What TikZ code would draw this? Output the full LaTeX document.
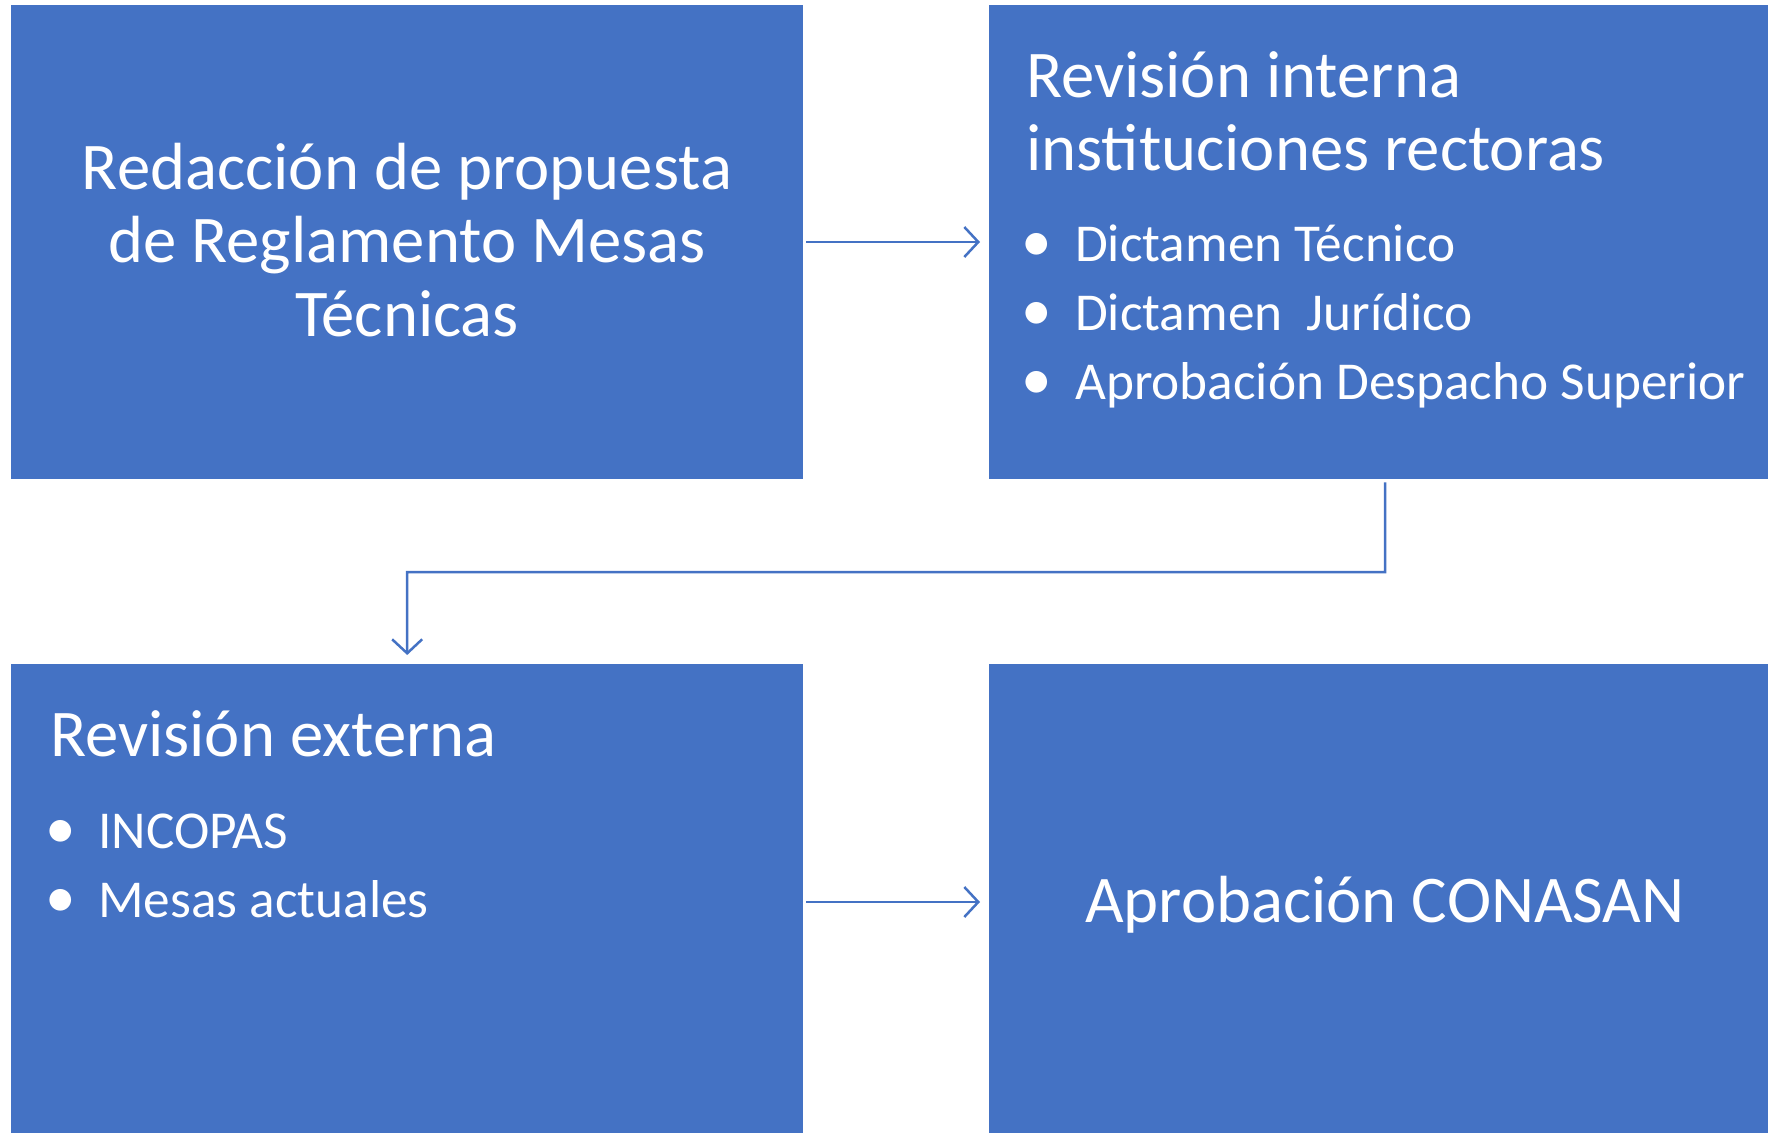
\documentclass[tikz,border=0pt]{standalone}
\usepackage{fontspec}
\setmainfont{Carlito}
\usetikzlibrary{arrows.meta}
\definecolor{boxblue}{HTML}{4472C4}
\tikzset{
  box/.style={fill=boxblue, draw=none, minimum width=792pt, minimum height=474pt, anchor=north west, inner sep=0pt},
  big/.style={text=white, font=\fontsize{66.7}{73}\selectfont, inner sep=0pt},
  small/.style={text=white, font=\fontsize{53.3}{69}\selectfont, inner sep=0pt},
  conn/.style={draw=boxblue, line width=2.5pt, -{Straight Barb[length=14pt,width=30pt,line width=2.5pt]}},
}
\begin{document}
\begin{tikzpicture}[x=1pt,y=-1pt]
\useasboundingbox (0,0) rectangle (1768,1132);
\clip (0,0) rectangle (1768,1132);
\node[box] (b1) at (11,5) {};
\node[box] (b2) at (989,5) {};
\node[box] (b3) at (11,664) {};
\node[box] (b4) at (989,664) {};
% box 1
\node[big, anchor=base] (t1a) at (407,189) {Redacción de propuesta};
\node[big, anchor=base] (t1b) at (407,262) {de Reglamento Mesas};
\node[big, anchor=base] (t1c) at (407,336) {Técnicas};
% box 2
\node[big, anchor=base west] (t2a) at (1026,97) {Revisión interna};
\node[big, anchor=base west] (t2b) at (1026,170) {instituciones rectoras};
\node[small, anchor=base, scale=1.15] (u2a) at (1037,261) {•};
\node[small, anchor=base west] (s2a) at (1075,261) {Dictamen Técnico};
\node[small, anchor=base, scale=1.15] (u2b) at (1037,330) {•};
\node[small, anchor=base west] (s2b) at (1075,330) {Dictamen\ \ Jurídico};
\node[small, anchor=base, scale=1.15] (u2c) at (1037,399) {•};
\node[small, anchor=base west] (s2c) at (1075,399) {Aprobación Despacho Superior};
% box 3
\node[big, anchor=base west] (t3a) at (50,756) {Revisión externa};
\node[small, anchor=base, scale=1.15] (u3a) at (61,848) {•};
\node[small, anchor=base west] (s3a) at (98,848) {INCOPAS};
\node[small, anchor=base, scale=1.15] (u3b) at (61,917) {•};
\node[small, anchor=base west] (s3b) at (98,917) {Mesas actuales};
% box 4
\node[big, anchor=base] (t4) at (1385,922) {Aprobación CONASAN};
% connectors
\draw[conn] (b1.east |- 0,242) ++(3,0) -- ([xshift=-9pt]b2.west |- 0,242);
\draw[conn] (b3.east |- 0,902) ++(3,0) -- ([xshift=-9pt]b4.west |- 0,902);
\draw[conn] ([yshift=-3pt]b2.south) -- (1385,572) -- (407,572) -- ([yshift=9pt]b3.north);
\end{tikzpicture}
\end{document}
